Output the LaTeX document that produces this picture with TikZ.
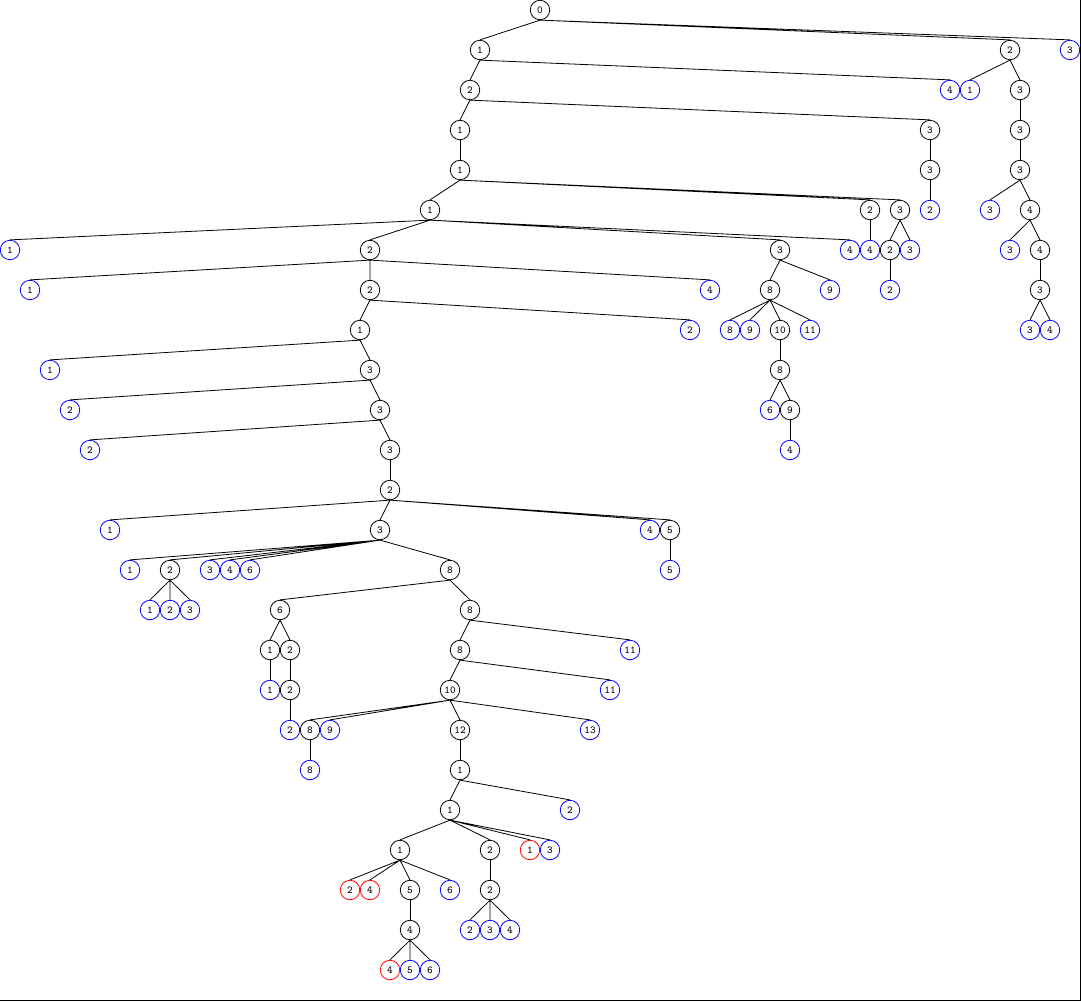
\documentclass[tikz,border=0pt]{standalone}
\usepackage{tikz}

\begin{document}
\begin{tikzpicture}[x=0.75pt,y=0.75pt,yscale=-1,xscale=1,
  tn/.style={draw=black,circle,line width=0.6pt,minimum size=14.6pt,inner sep=0pt,font=\ttfamily\fontsize{8}{9}\selectfont},
  lf/.style={tn,draw={rgb, 255:red, 0; green, 0; blue, 255 }},
  rd/.style={tn,draw={rgb, 255:red, 255; green, 0; blue, 0 }},
  every path/.style={line width=0.6pt}]
\useasboundingbox (0,0) rectangle (1081,1001);
%frame
\draw (1080.5,0) -- (1080.5,1000.5) -- (0,1000.5) ;

% Nodes, row by row
\draw (540,10) node [tn] (a1) {0};
%
\draw (480,50) node [tn] (b1) {1};
\draw (1010,50) node [tn] (b2) {2};
\draw (1070,50) node [lf] (b3) {3};
%
\draw (470,90) node [tn] (c1) {2};
\draw (950,90) node [lf] (c2) {4};
\draw (970,90) node [lf] (c3) {1};
\draw (1020,90) node [tn] (c4) {3};
%
\draw (460,130) node [tn] (d1) {1};
\draw (930,130) node [tn] (d2) {3};
\draw (1020,130) node [tn] (d3) {3};
%
\draw (460,170) node [tn] (e1) {1};
\draw (930,170) node [tn] (e2) {3};
\draw (1020,170) node [tn] (e3) {3};
%
\draw (430,210) node [tn] (f1) {1};
\draw (870,210) node [tn] (f2) {2};
\draw (900,210) node [tn] (f3) {3};
\draw (930,210) node [lf] (f4) {2};
\draw (990,210) node [lf] (f5) {3};
\draw (1030,210) node [tn] (f6) {4};
%
\draw (10,250) node [lf] (g1) {1};
\draw (370,250) node [tn] (g2) {2};
\draw (780,250) node [tn] (g3) {3};
\draw (850,250) node [lf] (g4) {4};
\draw (870,250) node [lf] (g5) {4};
\draw (890,250) node [tn] (g6) {2};
\draw (910,250) node [lf] (g7) {3};
\draw (1010,250) node [lf] (g8) {3};
\draw (1040,250) node [tn] (g9) {4};
%
\draw (30,290) node [lf] (h1) {1};
\draw (370,290) node [tn] (h2) {2};
\draw (710,290) node [lf] (h3) {4};
\draw (770,290) node [tn] (h4) {8};
\draw (830,290) node [lf] (h5) {9};
\draw (890,290) node [lf] (h6) {2};
\draw (1040,290) node [tn] (h7) {3};
%
\draw (360,330) node [tn] (i1) {1};
\draw (690,330) node [lf] (i2) {2};
\draw (730,330) node [lf] (i3) {8};
\draw (750,330) node [lf] (i4) {9};
\draw (780,330) node [tn] (i5) {10};
\draw (810,330) node [lf] (i6) {11};
\draw (1030,330) node [lf] (i7) {3};
\draw (1050,330) node [lf] (i8) {4};
%
\draw (50,370) node [lf] (j1) {1};
\draw (370,370) node [tn] (j2) {3};
\draw (780,370) node [tn] (j3) {8};
%
\draw (70,410) node [lf] (k1) {2};
\draw (380,410) node [tn] (k2) {3};
\draw (770,410) node [lf] (k3) {6};
\draw (790,410) node [tn] (k4) {9};
%
\draw (90,450) node [lf] (l1) {2};
\draw (390,450) node [tn] (l2) {3};
\draw (790,450) node [lf] (l3) {4};
%
\draw (390,490) node [tn] (m1) {2};
%
\draw (110,530) node [lf] (n1) {1};
\draw (380,530) node [tn] (n2) {3};
\draw (650,530) node [lf] (n3) {4};
\draw (670,530) node [tn] (n4) {5};
%
\draw (130,570) node [lf] (o1) {1};
\draw (170,570) node [tn] (o2) {2};
\draw (210,570) node [lf] (o3) {3};
\draw (230,570) node [lf] (o4) {4};
\draw (250,570) node [lf] (o5) {6};
\draw (450,570) node [tn] (o6) {8};
\draw (670,570) node [lf] (o7) {5};
%
\draw (150,610) node [lf] (p1) {1};
\draw (170,610) node [lf] (p2) {2};
\draw (190,610) node [lf] (p3) {3};
\draw (280,610) node [tn] (p4) {6};
\draw (470,610) node [tn] (p5) {8};
%
\draw (270,650) node [tn] (q1) {1};
\draw (290,650) node [tn] (q2) {2};
\draw (460,650) node [tn] (q3) {8};
\draw (630,650) node [lf] (q4) {11};
%
\draw (270,690) node [lf] (r1) {1};
\draw (290,690) node [tn] (r2) {2};
\draw (450,690) node [tn] (r3) {10};
\draw (610,690) node [lf] (r4) {11};
%
\draw (290,730) node [lf] (s1) {2};
\draw (310,730) node [tn] (s2) {8};
\draw (330,730) node [lf] (s3) {9};
\draw (460,730) node [tn] (s4) {12};
\draw (590,730) node [lf] (s5) {13};
%
\draw (310,770) node [lf] (t1) {8};
\draw (460,770) node [tn] (t2) {1};
%
\draw (450,810) node [tn] (u1) {1};
\draw (570,810) node [lf] (u2) {2};
%
\draw (400,850) node [tn] (v1) {1};
\draw (490,850) node [tn] (v2) {2};
\draw (530,850) node [rd] (v3) {1};
\draw (550,850) node [lf] (v4) {3};
%
\draw (350,890) node [rd] (w1) {2};
\draw (370,890) node [rd] (w2) {4};
\draw (410,890) node [tn] (w3) {5};
\draw (450,890) node [lf] (w4) {6};
\draw (490,890) node [tn] (w5) {2};
%
\draw (410,930) node [tn] (x1) {4};
\draw (470,930) node [lf] (x2) {2};
\draw (490,930) node [lf] (x3) {3};
\draw (510,930) node [lf] (x4) {4};
%
\draw (390,970) node [rd] (y1) {4};
\draw (410,970) node [lf] (y2) {5};
\draw (430,970) node [lf] (y3) {6};

% Straight Lines, parent to children
\draw (a1.south) -- (b1.north) (a1.south) -- (b2.north) (a1.south) -- (b3.north) ;
\draw (b1.south) -- (c1.north) (b1.south) -- (c2.north) ;
\draw (b2.south) -- (c3.north) (b2.south) -- (c4.north) ;
\draw (c1.south) -- (d1.north) (c1.south) -- (d2.north) ;
\draw (c4.south) -- (d3.north) ;
\draw (d1.south) -- (e1.north) ;
\draw (d2.south) -- (e2.north) ;
\draw (d3.south) -- (e3.north) ;
\draw (e1.south) -- (f1.north) (e1.south) -- (f2.north) (e1.south) -- (f3.north) ;
\draw (e2.south) -- (f4.north) ;
\draw (e3.south) -- (f5.north) (e3.south) -- (f6.north) ;
\draw (f1.south) -- (g1.north) (f1.south) -- (g2.north) (f1.south) -- (g3.north) (f1.south) -- (g4.north) ;
\draw (f2.south) -- (g5.north) ;
\draw (f3.south) -- (g6.north) (f3.south) -- (g7.north) ;
\draw (f6.south) -- (g8.north) (f6.south) -- (g9.north) ;
\draw (g2.south) -- (h1.north) (g2.south) -- (h2.north) (g2.south) -- (h3.north) ;
\draw (g3.south) -- (h4.north) (g3.south) -- (h5.north) ;
\draw (g6.south) -- (h6.north) ;
\draw (g9.south) -- (h7.north) ;
\draw (h2.south) -- (i1.north) (h2.south) -- (i2.north) ;
\draw (h4.south) -- (i3.north) (h4.south) -- (i4.north) (h4.south) -- (i5.north) (h4.south) -- (i6.north) ;
\draw (h7.south) -- (i7.north) (h7.south) -- (i8.north) ;
\draw (i1.south) -- (j1.north) (i1.south) -- (j2.north) ;
\draw (i5.south) -- (j3.north) ;
\draw (j2.south) -- (k1.north) (j2.south) -- (k2.north) ;
\draw (j3.south) -- (k3.north) (j3.south) -- (k4.north) ;
\draw (k2.south) -- (l1.north) (k2.south) -- (l2.north) ;
\draw (k4.south) -- (l3.north) ;
\draw (l2.south) -- (m1.north) ;
\draw (m1.south) -- (n1.north) (m1.south) -- (n2.north) (m1.south) -- (n3.north) (m1.south) -- (n4.north) ;
\draw (n2.south) -- (o1.north) (n2.south) -- (o2.north) (n2.south) -- (o3.north) (n2.south) -- (o4.north) (n2.south) -- (o5.north) (n2.south) -- (o6.north) ;
\draw (n4.south) -- (o7.north) ;
\draw (o2.south) -- (p1.north) (o2.south) -- (p2.north) (o2.south) -- (p3.north) ;
\draw (o6.south) -- (p4.north) (o6.south) -- (p5.north) ;
\draw (p4.south) -- (q1.north) (p4.south) -- (q2.north) ;
\draw (p5.south) -- (q3.north) (p5.south) -- (q4.north) ;
\draw (q1.south) -- (r1.north) ;
\draw (q2.south) -- (r2.north) ;
\draw (q3.south) -- (r3.north) (q3.south) -- (r4.north) ;
\draw (r2.south) -- (s1.north) ;
\draw (r3.south) -- (s2.north) (r3.south) -- (s3.north) (r3.south) -- (s4.north) (r3.south) -- (s5.north) ;
\draw (s2.south) -- (t1.north) ;
\draw (s4.south) -- (t2.north) ;
\draw (t2.south) -- (u1.north) (t2.south) -- (u2.north) ;
\draw (u1.south) -- (v1.north) (u1.south) -- (v2.north) (u1.south) -- (v3.north) (u1.south) -- (v4.north) ;
\draw (v1.south) -- (w1.north) (v1.south) -- (w2.north) (v1.south) -- (w3.north) (v1.south) -- (w4.north) ;
\draw (v2.south) -- (w5.north) ;
\draw (w3.south) -- (x1.north) ;
\draw (w5.south) -- (x2.north) (w5.south) -- (x3.north) (w5.south) -- (x4.north) ;
\draw (x1.south) -- (y1.north) (x1.south) -- (y2.north) (x1.south) -- (y3.north) ;

\end{tikzpicture}
\end{document}
